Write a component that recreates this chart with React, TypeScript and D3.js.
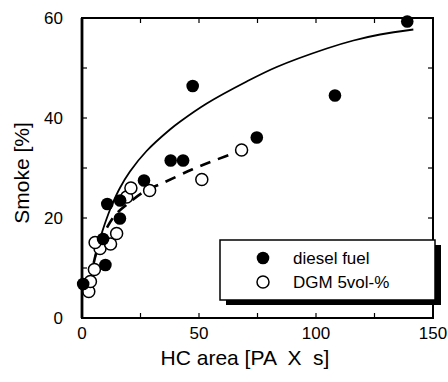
import React from "react";
import * as d3 from "d3";

const dieselX = [0.5, 9.0, 10.0, 10.8, 16.3, 16.2, 26.5, 37.9, 43.2, 47.3, 74.7, 108.1, 139.0];
const dieselY = [6.8, 15.8, 10.6, 22.8, 23.5, 19.9, 27.5, 31.5, 31.5, 46.4, 36.1, 44.5, 59.3];

const dgmX = [2.9, 3.6, 5.3, 7.7, 5.6, 12.2, 14.8, 19.1, 20.9, 28.9, 51.2, 68.2];
const dgmY = [5.3, 7.3, 9.7, 13.9, 15.1, 14.8, 16.9, 24.2, 26.0, 25.5, 27.7, 33.6];

const fitDieselX = [5.5, 7.7, 9.8, 12.7, 16.2, 20.5, 27.6, 37.6, 42.0, 53.3, 70.4, 83.2, 104.6, 116, 127.4, 141.6];
const fitDieselY = [12.0, 15.8, 18.9, 22.5, 26.0, 29.3, 33.4, 37.7, 39.3, 42.9, 47.3, 50.2, 53.9, 55.5, 56.7, 57.7];

const fitDgmX = [5, 7, 10, 14, 20, 27, 35, 47, 56, 68];
const fitDgmY = [11, 14.5, 17.5, 20.5, 23.0, 25.4, 27.1, 29.7, 31.4, 33.5];

const xTicks = [0, 50, 100, 150];
const xMinor = [25, 75, 125];
const yTicks = [0, 20, 40, 60];
const yMinor = [10, 30, 50];

const legendLabels = ["diesel fuel", "DGM 5vol-%"];

export default function App() {
  const W = 448, H = 382;
  const left = 82, right = 433, top = 18, bottom = 318;
  const x = d3.scaleLinear().domain([0, 150]).range([left, right]);
  const y = d3.scaleLinear().domain([0, 60]).range([bottom, top]);
  const font = "'Liberation Sans', Arial, sans-serif";

  const line = d3
    .line<[number, number]>()
    .x((d) => x(d[0]))
    .y((d) => y(d[1]))
    .curve(d3.curveCatmullRom.alpha(0.5));

  const solidPath = line(fitDieselX.map((v, i) => [v, fitDieselY[i]] as [number, number])) || "";
  const dashPath = line(fitDgmX.map((v, i) => [v, fitDgmY[i]] as [number, number])) || "";

  const tl = 5;
  const allX = [...xTicks, ...xMinor];
  const allY = [...yTicks, ...yMinor];

  const lgX = 220, lgY = 240, lgW = 215, lgH = 60;

  return (
    <svg width={W} height={H} style={{ position: "absolute", left: 0, top: 0, background: "#fff" }}>
      <rect width={W} height={H} fill="#fff" />
      {allX.map((t) => (
        <g key={"xt" + t}>
          <line x1={x(t)} x2={x(t)} y1={bottom} y2={bottom - tl} stroke="#000" strokeWidth={1.2} />
          <line x1={x(t)} x2={x(t)} y1={top} y2={top + tl} stroke="#000" strokeWidth={1.2} />
        </g>
      ))}
      {allY.map((t) => (
        <g key={"yt" + t}>
          <line x1={left} x2={left + tl} y1={y(t)} y2={y(t)} stroke="#000" strokeWidth={1.2} />
          <line x1={right} x2={right - tl} y1={y(t)} y2={y(t)} stroke="#000" strokeWidth={1.2} />
        </g>
      ))}
      <path d={solidPath} fill="none" stroke="#000" strokeWidth={1.8} />
      <path d={dashPath} fill="none" stroke="#000" strokeWidth={2.6} strokeDasharray="11,8" />
      {dgmX.map((v, i) => (
        <circle key={"o" + i} cx={x(v)} cy={y(dgmY[i])} r={6} fill="#fff" stroke="#000" strokeWidth={1.5} />
      ))}
      {dieselX.map((v, i) => (
        <circle key={"f" + i} cx={x(v)} cy={y(dieselY[i])} r={6.3} fill="#000" />
      ))}
      <rect x={left} y={top} width={right - left} height={bottom - top} fill="none" stroke="#000" strokeWidth={2} />
      <line x1={left} x2={left} y1={top} y2={bottom} stroke="#000" strokeWidth={2.8} />
      <rect x={lgX + 6} y={lgY + 5} width={lgW} height={lgH} fill="#000" />
      <rect x={lgX} y={lgY} width={lgW} height={lgH} fill="#fff" stroke="#000" strokeWidth={1.5} />
      <circle cx={263} cy={258} r={6.3} fill="#000" />
      <circle cx={263} cy={282} r={6} fill="#fff" stroke="#000" strokeWidth={1.5} />
      {legendLabels.map((s, i) => (
        <text key={s} x={293} y={258 + i * 24} dy="0.35em" fontFamily={font} fontSize={17} fill="#000">
          {s}
        </text>
      ))}
      {xTicks.map((t) => (
        <text key={"xl" + t} x={x(t)} y={333} dy="0.35em" textAnchor="middle" fontFamily={font} fontSize={17} fill="#000">
          {t}
        </text>
      ))}
      {yTicks.map((t) => (
        <text key={"yl" + t} x={63} y={y(t)} dy="0.35em" textAnchor="end" fontFamily={font} fontSize={17} fill="#000">
          {t}
        </text>
      ))}
      <text x={245} y={358} dy="0.35em" textAnchor="middle" fontFamily={font} fontSize={21} fill="#000" style={{ whiteSpace: "pre" }}>
        {"HC area [PA  X  s]"}
      </text>
      <text transform={`translate(22,173) rotate(-90)`} dy="0.35em" textAnchor="middle" fontFamily={font} fontSize={21} fill="#000">
        Smoke [%]
      </text>
    </svg>
  );
}
